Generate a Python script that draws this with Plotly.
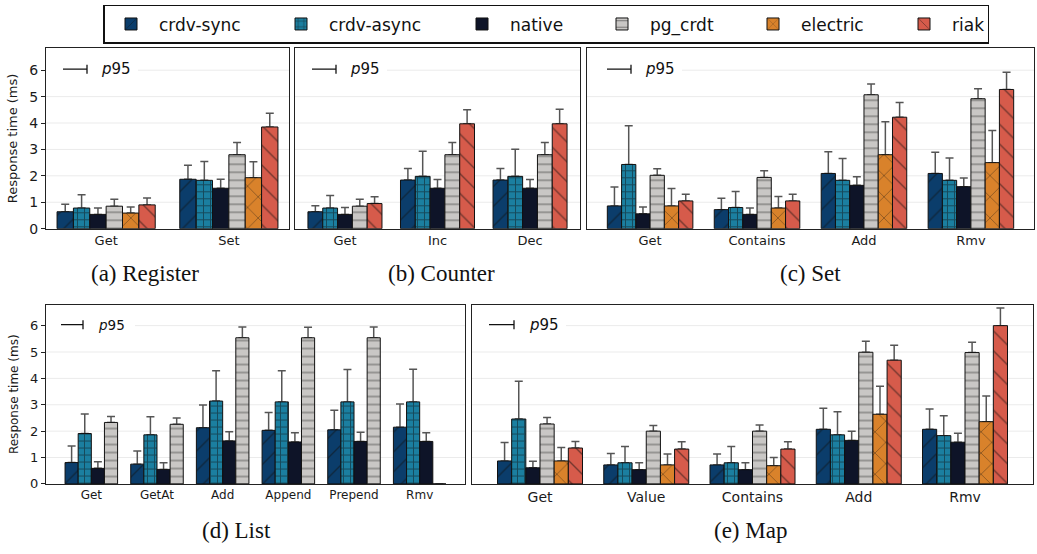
import plotly.graph_objects as go

W, H = 1037, 554

# ---------------- data ----------------
series = ["crdv-sync", "crdv-async", "native", "pg_crdt", "electric", "riak"]

register_ops = ["Get", "Set"]
register_mean = {
    "crdv-sync": [0.64, 1.87], "crdv-async": [0.78, 1.83], "native": [0.54, 1.53],
    "pg_crdt": [0.85, 2.80], "electric": [0.59, 1.93], "riak": [0.90, 3.85],
}
register_p95 = {
    "crdv-sync": [0.92, 2.40], "crdv-async": [1.28, 2.54], "native": [0.78, 1.87],
    "pg_crdt": [1.11, 3.26], "electric": [0.82, 2.53], "riak": [1.16, 4.37],
}

counter_ops = ["Get", "Inc", "Dec"]
counter_mean = {
    "crdv-sync": [0.64, 1.84, 1.84], "crdv-async": [0.78, 1.98, 1.98],
    "native": [0.54, 1.53, 1.53], "pg_crdt": [0.85, 2.80, 2.80], "riak": [0.95, 3.97, 3.97],
}
counter_p95 = {
    "crdv-sync": [0.87, 2.28, 2.28], "crdv-async": [1.26, 2.93, 3.01],
    "native": [0.80, 1.86, 1.86], "pg_crdt": [1.11, 3.26, 3.26], "riak": [1.21, 4.50, 4.52],
}

set_ops = ["Get", "Contains", "Add", "Rmv"]
set_mean = {
    "crdv-sync": [0.86, 0.72, 2.09, 2.09], "crdv-async": [2.43, 0.80, 1.83, 1.83],
    "native": [0.56, 0.54, 1.64, 1.59], "pg_crdt": [2.02, 1.94, 5.07, 4.92],
    "electric": [0.86, 0.78, 2.80, 2.50], "riak": [1.05, 1.05, 4.22, 5.27],
}
set_p95 = {
    "crdv-sync": [1.58, 1.15, 2.91, 2.89], "crdv-async": [3.90, 1.41, 2.66, 2.68],
    "native": [0.82, 0.78, 1.97, 1.92], "pg_crdt": [2.27, 2.19, 5.48, 5.30],
    "electric": [1.52, 1.22, 4.05, 3.72], "riak": [1.30, 1.30, 4.78, 5.92],
}

list_ops = ["Get", "GetAt", "Add", "Append", "Prepend", "Rmv"]
list_mean = {
    "crdv-sync": [0.81, 0.75, 2.13, 2.03, 2.05, 2.15],
    "crdv-async": [1.91, 1.86, 3.14, 3.11, 3.11, 3.11],
    "native": [0.59, 0.55, 1.63, 1.59, 1.61, 1.61],
    "pg_crdt": [2.33, 2.26, 5.54, 5.54, 5.54, 0.0],
}
list_p95 = {
    "crdv-sync": [1.44, 1.25, 2.99, 2.71, 2.79, 3.03],
    "crdv-async": [2.65, 2.55, 4.29, 4.29, 4.34, 4.35],
    "native": [0.84, 0.80, 1.98, 1.94, 1.96, 1.94],
    "pg_crdt": [2.56, 2.50, 5.95, 5.94, 5.95, None],
}

map_ops = ["Get", "Value", "Contains", "Add", "Rmv"]
map_mean = {
    "crdv-sync": [0.87, 0.72, 0.72, 2.07, 2.07], "crdv-async": [2.46, 0.80, 0.80, 1.86, 1.83],
    "native": [0.61, 0.54, 0.54, 1.65, 1.58], "pg_crdt": [2.27, 2.00, 2.00, 4.99, 4.98],
    "electric": [0.87, 0.72, 0.69, 2.64, 2.36], "riak": [1.36, 1.32, 1.32, 4.69, 6.00],
}
map_p95 = {
    "crdv-sync": [1.57, 1.15, 1.13, 2.87, 2.84], "crdv-async": [3.89, 1.42, 1.42, 2.74, 2.58],
    "native": [0.86, 0.80, 0.80, 2.00, 1.92], "pg_crdt": [2.52, 2.21, 2.23, 5.41, 5.37],
    "electric": [1.38, 1.13, 1.00, 3.70, 3.33], "riak": [1.61, 1.60, 1.60, 5.26, 6.67],
}

captions = ["(a) Register", "(b) Counter", "(c) Set", "(d) List", "(e) Map"]
y_title = "Response time (ms)"
ytick_vals = [0, 1, 2, 3, 4, 5, 6]

# ---------------- styles ----------------
series_colors = ["#0b3d6b", "#1b7fa0", "#0e1428", "#c9c7c5", "#d9822b", "#d65b4b"]
series_hatch = ["/", "+", "", "-", "x", "\\"]
hatch_size = {"/": 14, "\\": 14, "+": 7, "-": 8, "x": 15, "": 8}
hatch_solidity = {"/": 0.1, "\\": 0.1, "+": 0.25, "-": 0.14, "x": 0.09, "": 0.3}
legend_entry_px = [109, 120, 79, 90, 90, 30]

panels = [
    dict(ops=register_ops, mean=register_mean, p95=register_p95, px=(46, 289), py=(49, 232),
         yr=6.83, tick=13, ylab=True, ytick=14, ytitle=13, p95f=15, pl=(17, 41), pt=54, cap=(145, 277)),
    dict(ops=counter_ops, mean=counter_mean, p95=counter_p95, px=(295, 580), py=(49, 232),
         yr=6.83, tick=13, ylab=False, p95f=15, pl=(17, 41), pt=54, cap=(441, 277)),
    dict(ops=set_ops, mean=set_mean, p95=set_p95, px=(587, 1034), py=(49, 232),
         yr=6.83, tick=13, ylab=False, p95f=15, pl=(20, 44), pt=57, cap=(810, 277)),
    dict(ops=list_ops, mean=list_mean, p95=list_p95, px=(46, 465), py=(309, 491),
         yr=6.80, tick=12, ylab=True, ytick=13, ytitle=12, p95f=13.5, pl=(15, 37), pt=51, cap=(236, 538)),
    dict(ops=map_ops, mean=map_mean, p95=map_p95, px=(472, 1033), py=(309, 491),
         yr=6.80, tick=14, ylab=False, p95f=15, pl=(17, 42), pt=56, cap=(750, 538)),
]

fig = go.Figure()
layout = dict(
    width=W, height=H, margin=dict(l=0, r=0, t=0, b=0),
    paper_bgcolor="white", plot_bgcolor="white",
    barmode="group", bargap=0.2, bargroupgap=0.0,
    font=dict(family="DejaVu Sans", color="#1a1a1a"),
    showlegend=True,
    legend=dict(orientation="h", x=103 / W, xanchor="left", y=1 - 5 / H, yanchor="top",
                bordercolor="#111111", borderwidth=1.5, bgcolor="white",
                font=dict(family="DejaVu Sans", size=17, color="#111111"),
                itemwidth=46, tracegroupgap=0),
)
shapes, annotations = [], []

for i, p in enumerate(panels):
    n = i + 1
    xa = "x" if n == 1 else f"x{n}"
    ya = "y" if n == 1 else f"y{n}"
    xkey = "xaxis" if n == 1 else f"xaxis{n}"
    ykey = "yaxis" if n == 1 else f"yaxis{n}"
    names = [s for s in series if s in p["mean"]]
    ng = len(p["ops"])
    pw = p["px"][1] - p["px"][0]
    for s in names:
        k = series.index(s)
        means = p["mean"][s]
        errs = [None if (q is None) else round(q - m, 3) for m, q in zip(means, p["p95"][s])]
        # p95 whiskers (drawn first so the bar hides the lower end)
        fig.add_trace(go.Bar(
            x=p["ops"], y=means, name=s, xaxis=xa, yaxis=ya, offsetgroup=s,
            legendgroup=s, showlegend=False,
            marker=dict(color="rgba(0,0,0,0)", line=dict(width=0)),
            error_y=dict(type="data", symmetric=False, array=errs, arrayminus=[0] * ng,
                         color="#555555", thickness=1.5, width=4),
            hoverinfo="skip",
        ))
        fig.add_trace(go.Bar(
            x=p["ops"], y=means, name=s, xaxis=xa, yaxis=ya, offsetgroup=s,
            legendgroup=s, showlegend=(i == 2), legendwidth=legend_entry_px[k],
            marker=dict(color=series_colors[k],
                        line=dict(color="#111111", width=1),
                        pattern=dict(shape=series_hatch[k], bgcolor=series_colors[k],
                                     fgcolor="#111111",
                                     size=hatch_size[series_hatch[k]],
                                     solidity=hatch_solidity[series_hatch[k]])),
            hoverinfo="skip",
        ))
    span = (ng - 1) + 0.8
    pad = 0.05 * span
    layout[xkey] = dict(
        domain=[p["px"][0] / W, p["px"][1] / W], anchor=ya, type="category",
        range=[-0.4 - pad, ng - 1 + 0.4 + pad],
        showline=True, mirror=True, linecolor="#222222", linewidth=1.2,
        showgrid=False, ticks="", tickfont=dict(size=p["tick"], family="DejaVu Sans", color="#1a1a1a"),
        fixedrange=True,
    )
    ydict = dict(
        domain=[1 - p["py"][1] / H, 1 - p["py"][0] / H], anchor=xa,
        range=[0, p["yr"]], tickvals=ytick_vals,
        showline=True, mirror=True, linecolor="#222222", linewidth=1.2,
        showgrid=False, zeroline=False, fixedrange=True,
    )
    if p["ylab"]:
        ydict.update(ticks="outside", ticklen=4, tickcolor="#222222", tickwidth=1,
                     tickfont=dict(size=p["ytick"], family="DejaVu Sans", color="#1a1a1a"),
                     title=dict(text=y_title, font=dict(size=p["ytitle"], family="DejaVu Sans", color="#1a1a1a"),
                                standoff=8))
    else:
        ydict.update(showticklabels=False, ticks="")
    layout[ykey] = ydict

    xd = f"{xa} domain"
    # light horizontal grid (interrupted behind the p95 key at the top line)
    for v in ytick_vals[1:]:
        x0 = (p["pt"] + 38) / pw if v == 6 else 0
        shapes.append(dict(type="line", xref=xd, yref=ya, x0=x0, x1=1, y0=v, y1=v,
                           line=dict(color="#ebebeb", width=1), layer="below"))
    # in-panel p95 key
    shapes.append(dict(type="line", xref=xd, yref=ya, xsizemode="pixel", ysizemode="pixel",
                       xanchor=0, yanchor=6, x0=p["pl"][0], x1=p["pl"][1], y0=1, y1=1,
                       line=dict(color="#111111", width=1.3)))
    shapes.append(dict(type="line", xref=xd, yref=ya, xsizemode="pixel", ysizemode="pixel",
                       xanchor=0, yanchor=6, x0=p["pl"][1], x1=p["pl"][1], y0=-3.5, y1=5.5,
                       line=dict(color="#111111", width=1.3)))
    annotations.append(dict(text="<i>p</i>95", xref=xd, yref=ya, x=0, y=6, xanchor="left",
                            yanchor="middle", xshift=p["pt"] - 1, yshift=1, showarrow=False,
                            font=dict(family="DejaVu Sans", size=p["p95f"], color="#111111")))
    annotations.append(dict(text=captions[i], xref="paper", yref="paper",
                            x=p["cap"][0] / W, y=1 - p["cap"][1] / H, xanchor="center", yanchor="middle",
                            showarrow=False,
                            font=dict(family="Liberation Serif", size=23, color="#111111")))

layout["shapes"] = shapes
layout["annotations"] = annotations
fig.update_layout(**layout)
fig.write_html("out.html", config={"displayModeBar": False},
               post_script="document.body.style.margin='0';")
